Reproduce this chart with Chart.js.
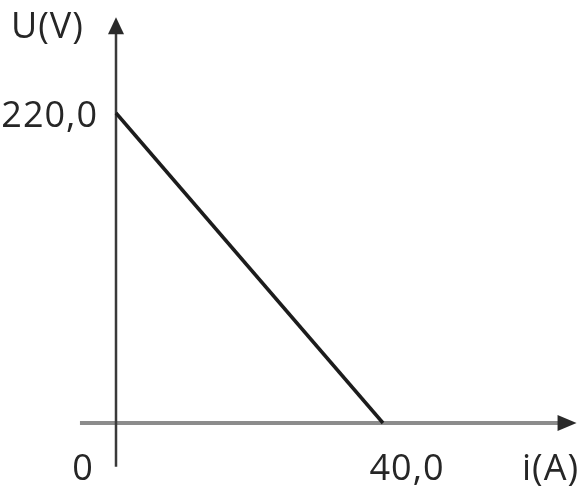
<!DOCTYPE html>
<html>
<head>
<meta charset="utf-8">
<script src="https://cdn.jsdelivr.net/npm/chart.js@4/dist/chart.umd.min.js"></script>
<style>
  body { margin: 0; background: #fff; }
  canvas { display: block; }
</style>
</head>
<body>
<canvas id="uiChart" width="586" height="501"></canvas>
<script>
// U-i characteristic of the source
const currentA = [0, 40];
const voltageV = [220, 0];
const xTickLabels = ['0', '40,0'];
const yTickLabels = ['220,0'];
const xTitle = 'i(A)';
const yTitle = 'U(V)';

const points = currentA.map((x, i) => ({ x: x, y: voltageV[i] }));

// axes with arrows, drawn from the scales
const axesPlugin = {
  id: 'axes',
  beforeDatasetsDraw(chart) {
    const ctx = chart.ctx;
    const xs = chart.scales.x, ys = chart.scales.y;
    const x0 = xs.getPixelForValue(0), y0 = ys.getPixelForValue(0);

    ctx.save();
    // horizontal axis
    ctx.strokeStyle = '#8c8c8c';
    ctx.lineWidth = 4;
    ctx.beginPath();
    ctx.moveTo(xs.getPixelForValue(-5.4), y0);
    ctx.lineTo(xs.getPixelForValue(66.5), y0);
    ctx.stroke();
    const xe = xs.getPixelForValue(69);
    ctx.fillStyle = '#2a2a2a';
    ctx.beginPath();
    ctx.moveTo(xe, y0);
    ctx.lineTo(xe - 19, y0 - 8);
    ctx.lineTo(xe - 19, y0 + 8);
    ctx.closePath();
    ctx.fill();

    // vertical axis
    ctx.strokeStyle = '#3a3a3a';
    ctx.lineWidth = 2.5;
    ctx.beginPath();
    ctx.moveTo(x0, ys.getPixelForValue(-31));
    ctx.lineTo(x0, ys.getPixelForValue(278));
    ctx.stroke();
    const ye = ys.getPixelForValue(288);
    ctx.beginPath();
    ctx.moveTo(x0, ye);
    ctx.lineTo(x0 - 8, ye + 17);
    ctx.lineTo(x0 + 8, ye + 17);
    ctx.closePath();
    ctx.fill();
    ctx.restore();
  },
  afterDraw(chart) {
    const ctx = chart.ctx;
    const xs = chart.scales.x, ys = chart.scales.y;
    ctx.save();
    ctx.fillStyle = '#262626';
    ctx.font = '36px "Open Sans"';
    ctx.letterSpacing = '1px';
    ctx.textBaseline = 'middle';

    ctx.textAlign = 'right';
    ctx.fillText(yTickLabels[0], xs.getPixelForValue(0) - 18, ys.getPixelForValue(220) + 4);

    ctx.textAlign = 'left';
    ctx.fillText(yTitle, 11, ys.getPixelForValue(288) + 11);

    const yl = ys.getPixelForValue(0) + 47;
    ctx.textAlign = 'center';
    ctx.fillText(xTickLabels[0], xs.getPixelForValue(0) - 33, yl);
    ctx.fillText(xTickLabels[1], xs.getPixelForValue(40) + 24, yl);
    ctx.fillText(xTitle, xs.getPixelForValue(65.1), yl);
    ctx.restore();
  }
};

new Chart(document.getElementById('uiChart'), {
  type: 'scatter',
  data: {
    datasets: [{
      data: points,
      showLine: true,
      borderColor: '#1c1c1c',
      borderWidth: 3.5,
      pointRadius: 0,
      clip: false
    }]
  },
  options: {
    responsive: false,
    animation: false,
    devicePixelRatio: 1,
    layout: { padding: { left: 116, right: 203, top: 113, bottom: 78 } },
    scales: {
      x: { type: 'linear', min: 0, max: 40, display: false },
      y: { type: 'linear', min: 0, max: 220, display: false }
    },
    plugins: {
      legend: { display: false },
      tooltip: { enabled: false }
    }
  },
  plugins: [axesPlugin]
});
</script>
</body>
</html>
